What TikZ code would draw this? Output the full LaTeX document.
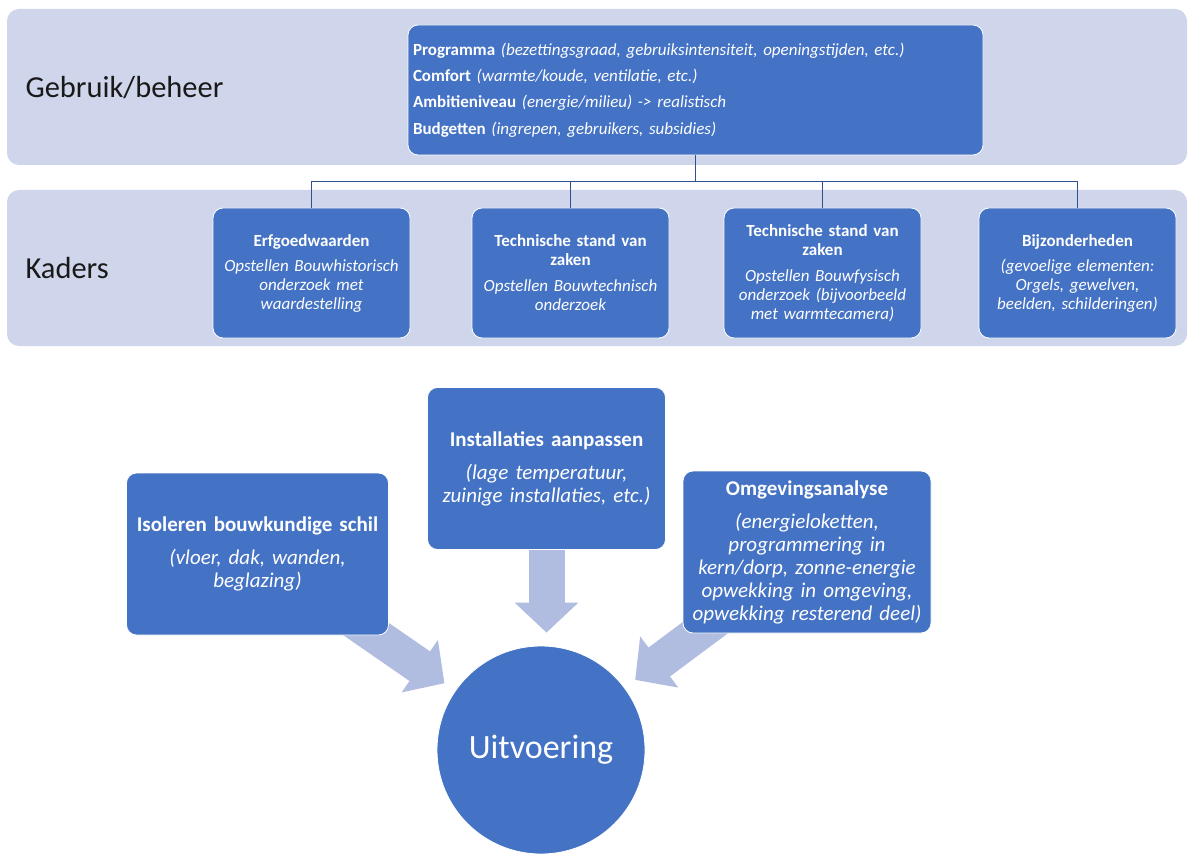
\documentclass[tikz,border=0pt]{standalone}
\usepackage{fontspec}
\setmainfont{Carlito}
\usetikzlibrary{
  calc,positioning,arrows.meta,backgrounds
}
\definecolor{boxblue}{HTML}{4472C4}
\definecolor{bandgrey}{HTML}{CFD5EA}
\definecolor{arrowgrey}{HTML}{B0BCE0}
\definecolor{linkblue}{HTML}{2F528F}
\tikzset{
  band/.style={fill=bandgrey,draw=none,rounded corners=12pt},
  bandlabel/.style={anchor=west,text=black!90,font=\fontsize{30.5}{33}\selectfont},
  bluebox/.style={fill=boxblue,draw=white,line width=0.8pt,rounded corners=10pt,
    text=white,align=center,inner sep=4pt},
  kaderbox/.style={bluebox,minimum width=197pt,minimum height=130pt,text width=188pt,
    font=\fontsize{17}{19}\selectfont},
  maatbox/.style={bluebox,minimum height=162pt,
    font=\fontsize{21}{23}\selectfont},
  link/.style={draw=linkblue,line width=1.2pt},
  fatarrow/.style={draw=arrowgrey,line width=36pt,shorten >=13pt,
    -{Triangle[width=62pt,length=30pt]}}
}
\begin{document}
\begin{tikzpicture}[x=1pt,y=-1pt]
\useasboundingbox (0,0) rectangle (1188,861);

% banden
\draw[band] (7,9) rectangle (1187,165);
\draw[band] (7,190) rectangle (1187,346);
\node[bandlabel] (gebruik) at (22,88) {Gebruik/beheer};
\node[bandlabel] (kaders) at (22,268) {Kaders};

% gebruik/beheer
\node[bluebox,minimum width=575pt,minimum height=130pt,text width=565pt,align=left,
  font=\fontsize{17}{26.3}\selectfont] (prog) at (695.5,90) {%
  \textbf{Programma} \textit{(bezettingsgraad, gebruiksintensiteit, openingstijden, etc.)}\\
  \textbf{Comfort} \textit{(warmte/koude, ventilatie, etc.)}\\
  \textbf{Ambitieniveau} \textit{(energie/milieu) -> realistisch}\\
  \textbf{Budgetten} \textit{(ingrepen, gebruikers, subsidies)}};

% kaders
\node[kaderbox] (erf) at (311.5,273) {\textbf{Erfgoedwaarden}\\[6pt]
  \textit{Opstellen Bouwhistorisch\\ onderzoek met\\ waardestelling}};
\node[kaderbox] (tech) at (570.5,273) {\textbf{Technische stand van}\\ \textbf{zaken}\\[7pt]
  \textit{Opstellen Bouwtechnisch\\ onderzoek}};
\node[kaderbox] (fys) at (822.5,273) {\textbf{Technische stand van}\\ \textbf{zaken}\\[7pt]
  \textit{Opstellen Bouwfysisch\\ onderzoek (bijvoorbeeld\\ met warmtecamera)}};
\node[kaderbox] (bijz) at (1077.5,273) {\textbf{Bijzonderheden}\\[6pt]
  \textit{(gevoelige elementen:\\ Orgels, gewelven,\\ beelden, schilderingen)}};

\draw[link] (prog.south) -- ++(0,26) coordinate (split);
\foreach \k in {erf,tech,fys,bijz}
  \draw[link] (split) -| (\k.north);

% maatregelen
\node[maatbox,minimum width=237pt,text width=230pt] (inst) at (546.5,468.5)
  {\textbf{Installaties aanpassen}\\[10pt]
  \textit{(lage temperatuur,\\ zuinige installaties, etc.)}};
\node[maatbox,minimum width=261pt,text width=254pt] (iso) at (257.5,554)
  {\textbf{Isoleren bouwkundige schil}\\[10pt]
  \textit{(vloer, dak, wanden,\\ beglazing)}};
\node[maatbox,minimum width=246pt,text width=240pt] (omg) at (807,552)
  {\textbf{Omgevingsanalyse}\\[10pt]
  \textit{(energieloketten,\\ programmering in\\ kern/dorp, zonne-energie\\
  opwekking in omgeving,\\ opwekking resterend deel)}};

\node[circle,fill=boxblue,draw=white,line width=0.8pt,minimum size=208pt,text=white,
  font=\fontsize{34}{37}\selectfont] (uit) at (541,750) {Uitvoering};

\begin{scope}[on background layer]
  \draw[fatarrow] (inst.center) -- (inst.center |- uit.north);
  \foreach \m in {iso,omg}
    \draw[fatarrow] (\m.center) -- (uit);
\end{scope}
\end{tikzpicture}
\end{document}
